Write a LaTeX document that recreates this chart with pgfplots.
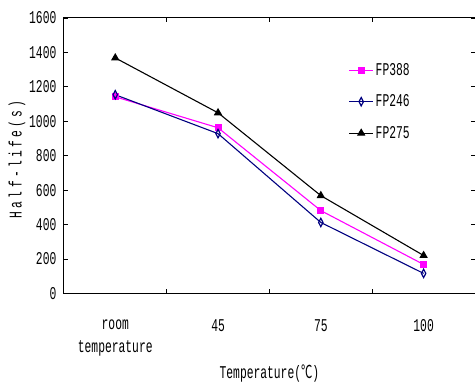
\documentclass[border=0pt]{standalone}
\usepackage{fontspec}
\setmainfont{Liberation Mono}[FakeStretch=0.63]
\newfontfamily\cjk{Noto Sans CJK SC}[FakeStretch=0.63]
\usepackage{pgfplots}
\pgfplotsset{compat=1.18}
\newcommand\myfont{\fontsize{18}{23}\selectfont}
\definecolor{mag}{RGB}{255,0,255}
\definecolor{nav}{RGB}{0,0,128}
\begin{document}
\begin{tikzpicture}
\begin{axis}[
  scale only axis, width=412pt, height=276pt,
  xmin=-0.5, xmax=3.5, ymin=0, ymax=1600,
  ytick={0,200,...,1600},
  xtick={0.5,1.5,2.5}, xticklabels={},
  extra x ticks={0,1,2,3},
  extra x tick labels={room\\temperature,45,75,100},
  extra x tick style={major tick length=0pt},
  tick align=inside, major tick length=4pt,
  tick style={black, line width=0.8pt},
  axis line style={line width=1pt},
  /pgf/number format/assume math mode=true,
  /pgf/number format/1000 sep={},
  tick label style={font=\myfont},
  xticklabel style={align=center, anchor=north, yshift=-23pt},
  yticklabel style={xshift=-4pt},
  xlabel={Temperature({\cjk ℃})},
  ylabel={\addfontfeatures{LetterSpace=18}Half-life(s)},
  every axis x label/.style={at={(axis description cs:0.5,0)}, anchor=center, yshift=-80pt, font=\myfont},
  every axis y label/.style={at={(axis description cs:0,0.486)}, rotate=90, anchor=center, yshift=47pt, font=\myfont},
  legend style={at={(0.685,0.696)}, anchor=west, draw=none, fill=none, font=\myfont, row sep=14pt},
  legend cell align=left,
  legend image code/.code={\draw[mark repeat=2,mark phase=2] plot coordinates {(0pt,0pt) (12pt,0pt) (24pt,0pt)};},
]
\addplot[mag, line width=1.1pt, mark=square*, mark size=3pt, mark options={solid, fill=mag}]
  coordinates {(0,1142) (1,962) (2,481) (3,168)};
\addlegendentry{FP388}
\addplot[nav, line width=1.1pt, mark=diamond, mark size=4.2pt, mark options={solid, fill=white, xscale=0.7, line width=1.2pt}]
  coordinates {(0,1154) (1,928) (2,412) (3,116)};
\addlegendentry{FP246}
\addplot[black, line width=1.1pt, mark=triangle*, mark size=3.8pt, mark options={solid, fill=black}]
  coordinates {(0,1368) (1,1049) (2,568) (3,220)};
\addlegendentry{FP275}
\end{axis}
\pgfresetboundingbox
\path (current axis.south west) ++(-64pt,-88pt) coordinate (bl);
\path (current axis.north east) ++(-1pt,18pt) coordinate (tr);
\path (bl) rectangle (tr);
\end{tikzpicture}
\end{document}
